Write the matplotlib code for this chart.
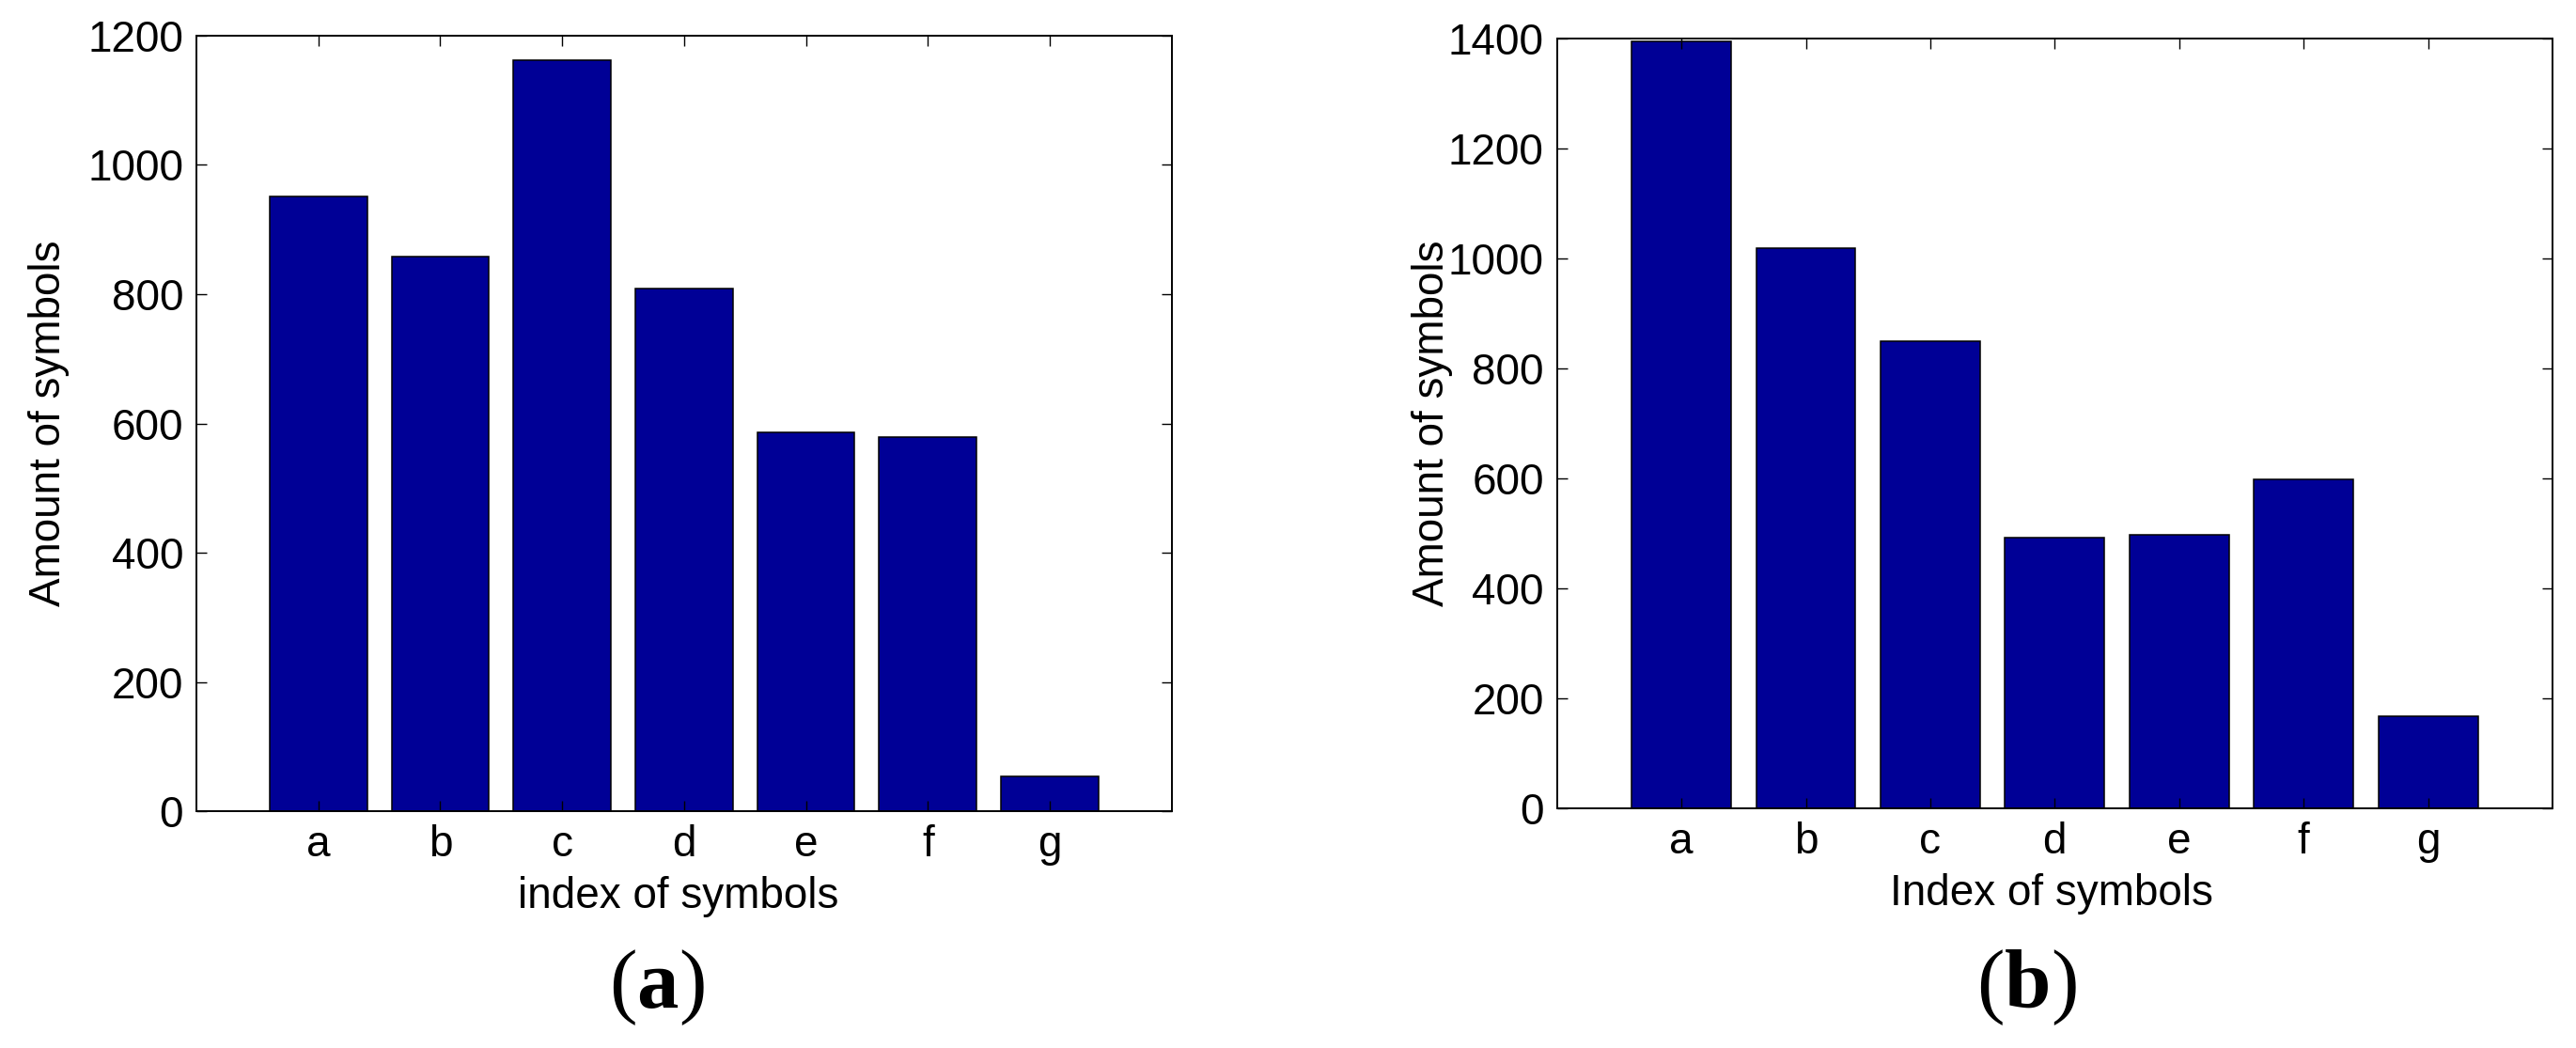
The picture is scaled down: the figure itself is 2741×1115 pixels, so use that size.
import matplotlib
matplotlib.use("Agg")
import matplotlib.pyplot as plt

plt.rcParams['font.family'] = ['Liberation Sans', 'DejaVu Sans']
plt.rcParams['mathtext.fontset'] = 'custom'
plt.rcParams['mathtext.rm'] = 'Liberation Serif'
plt.rcParams['mathtext.bf'] = 'Liberation Serif:bold'

symbols = ["a", "b", "c", "d", "e", "f", "g"]
amount_a = [951, 858, 1162, 808, 586, 579, 55]
amount_b = [1394, 1018, 850, 492, 497, 598, 168]
yticks_a = [0, 200, 400, 600, 800, 1000, 1200]
yticks_b = [0, 200, 400, 600, 800, 1000, 1200, 1400]

BAR_COLOR = "#000096"
FS = 33

fig = plt.figure(figsize=(27.41, 11.15), dpi=100)
ax1 = fig.add_axes([0.07625, 0.2257, 0.3786, 0.7405])
ax2 = fig.add_axes([0.6044, 0.2287, 0.3865, 0.7348])


def draw_panel(ax, values, yticks, xlab, xlab_x, xlab_y, ylab_x):
    pos = list(range(1, len(values) + 1))
    ax.bar(pos, values, width=0.8, color=BAR_COLOR, edgecolor="black", linewidth=1.1)
    ax.set_xlim(0, len(values) + 1)
    ax.set_ylim(yticks[0], yticks[-1])
    ax.set_xticks(pos)
    ax.set_xticklabels(symbols)
    ax.set_yticks(yticks)
    ax.tick_params(direction="in", length=7.7, width=1.0, labelsize=FS,
                   top=True, right=True, pad=10)
    for s in ax.spines.values():
        s.set_linewidth(1.4)
    ax.set_xlabel(xlab, fontsize=FS)
    ax.xaxis.label.set_va("baseline")
    ax.xaxis.set_label_coords(xlab_x, xlab_y)
    ax.set_ylabel("Amount of symbols", fontsize=FS)
    ax.yaxis.label.set_va("center")
    ax.yaxis.set_label_coords(ylab_x, 0.5)


draw_panel(ax1, amount_a, yticks_a, "index of symbols", 0.494, -0.1244, -0.151)
draw_panel(ax2, amount_b, yticks_b, "Index of symbols", 0.497, -0.1257, -0.125)

fig.text(0.255, 0.0574, r"($\mathbf{a}$)", fontsize=64, ha="center", va="center",
         family="Liberation Serif")
fig.text(0.7866, 0.0574, r"($\mathbf{b}$)", fontsize=64, ha="center", va="center",
         family="Liberation Serif")

fig.savefig("out.png", dpi=100)
